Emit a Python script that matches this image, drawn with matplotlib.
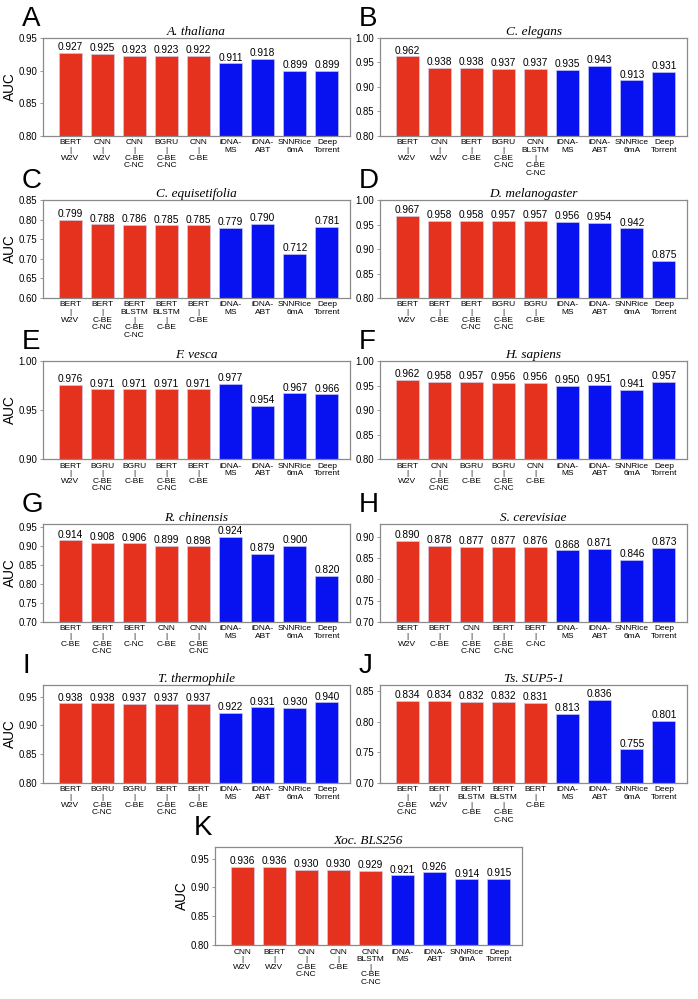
import matplotlib
matplotlib.use("Agg")
import matplotlib.pyplot as plt

plt.rcParams['font.family'] = ['Liberation Sans', 'DejaVu Sans']

# common baselines (last 4 bars)
base_labels = ["iDNA-\nMS", "iDNA-\nABT", "SNNRice\n6mA", "Deep\nTorrent"]

# A. thaliana
a_labels = ["BERT\n|\nW2V", "CNN\n|\nW2V", "CNN\n|\nC-BE\nC-NC", "BGRU\n|\nC-BE\nC-NC", "CNN\n|\nC-BE"]
a_values = [0.927, 0.925, 0.923, 0.923, 0.922, 0.911, 0.918, 0.899, 0.899]
# C. elegans
b_labels = ["BERT\n|\nW2V", "CNN\n|\nW2V", "BERT\n|\nC-BE", "BGRU\n|\nC-BE\nC-NC", "CNN\nBLSTM\n|\nC-BE\nC-NC"]
b_values = [0.962, 0.938, 0.938, 0.937, 0.937, 0.935, 0.943, 0.913, 0.931]
# C. equisetifolia
c_labels = ["BERT\n|\nW2V", "BERT\n|\nC-BE\nC-NC", "BERT\nBLSTM\n|\nC-BE\nC-NC", "BERT\nBLSTM\n|\nC-BE", "BERT\n|\nC-BE"]
c_values = [0.799, 0.788, 0.786, 0.785, 0.785, 0.779, 0.790, 0.712, 0.781]
# D. melanogaster
d_labels = ["BERT\n|\nW2V", "BERT\n|\nC-BE", "BERT\n|\nC-BE\nC-NC", "BGRU\n|\nC-BE\nC-NC", "BGRU\n|\nC-BE"]
d_values = [0.967, 0.958, 0.958, 0.957, 0.957, 0.956, 0.954, 0.942, 0.875]
# F. vesca
e_labels = ["BERT\n|\nW2V", "BGRU\n|\nC-BE\nC-NC", "BGRU\n|\nC-BE", "BERT\n|\nC-BE\nC-NC", "BERT\n|\nC-BE"]
e_values = [0.976, 0.971, 0.971, 0.971, 0.971, 0.977, 0.954, 0.967, 0.966]
# H. sapiens
f_labels = ["BERT\n|\nW2V", "CNN\n|\nC-BE\nC-NC", "BGRU\n|\nC-BE", "BGRU\n|\nC-BE\nC-NC", "CNN\n|\nC-BE"]
f_values = [0.962, 0.958, 0.957, 0.956, 0.956, 0.950, 0.951, 0.941, 0.957]
# R. chinensis
g_labels = ["BERT\n|\nC-BE", "BERT\n|\nC-BE\nC-NC", "BERT\n|\nC-NC", "CNN\n|\nC-BE", "CNN\n|\nC-BE\nC-NC"]
g_values = [0.914, 0.908, 0.906, 0.899, 0.898, 0.924, 0.879, 0.900, 0.820]
# S. cerevisiae
h_labels = ["BERT\n|\nW2V", "BERT\n|\nC-BE", "CNN\n|\nC-BE\nC-NC", "BERT\n|\nC-BE\nC-NC", "BERT\n|\nC-NC"]
h_values = [0.890, 0.878, 0.877, 0.877, 0.876, 0.868, 0.871, 0.846, 0.873]
# T. thermophile
i_labels = ["BERT\n|\nW2V", "BGRU\n|\nC-BE\nC-NC", "BGRU\n|\nC-BE", "BERT\n|\nC-BE\nC-NC", "BERT\n|\nC-BE"]
i_values = [0.938, 0.938, 0.937, 0.937, 0.937, 0.922, 0.931, 0.930, 0.940]
# Ts. SUP5-1
j_labels = ["BERT\n|\nC-BE\nC-NC", "BERT\n|\nW2V", "BERT\nBLSTM\n|\nC-BE", "BERT\nBLSTM\n|\nC-BE\nC-NC", "BERT\n|\nC-BE"]
j_values = [0.834, 0.834, 0.832, 0.832, 0.831, 0.813, 0.836, 0.755, 0.801]
# Xoc. BLS256
k_labels = ["CNN\n|\nW2V", "BERT\n|\nW2V", "CNN\n|\nC-BE\nC-NC", "CNN\n|\nC-BE", "CNN\nBLSTM\n|\nC-BE\nC-NC"]
k_values = [0.936, 0.936, 0.930, 0.930, 0.929, 0.921, 0.926, 0.914, 0.915]

RED = '#E5321F'
BLUE = '#0812F0'
GREY = '#8a8a8a'

fig = plt.figure(figsize=(6.98, 9.99), dpi=100)

W = 307 / 698
H = 98 / 999
LX = 43 / 698
RX = 380 / 698
KX = 215 / 698


def panel(rect, letter, title, labels, values, ylim, yticks, auc=True):
    ax = fig.add_axes(rect)
    x = list(range(len(values)))
    colors = [RED] * 5 + [BLUE] * 4
    ax.bar(x, [v - ylim[0] for v in values], bottom=ylim[0], width=0.72,
           color=colors, edgecolor='#d0d0f0', linewidth=0.4)
    for xi, v in zip(x, values):
        ax.text(xi, v + (ylim[1] - ylim[0]) * 0.008, "%.3f" % v, ha='center', va='bottom', fontsize=7.3)
    ax.set_xlim(-0.85, 8.72)
    ax.set_ylim(*ylim)
    ax.set_yticks(yticks)
    ax.set_yticklabels(["%.2f" % t for t in yticks], fontsize=6.9)
    ax.set_xticks(x)
    ax.set_xticklabels(labels + base_labels, fontsize=6.0, linespacing=1.13, va='top')
    ax.tick_params(axis='x', length=0, pad=2.5)
    ax.tick_params(axis='y', length=2.5, width=0.6, color=GREY, pad=1.5)
    for s in ax.spines.values():
        s.set_color(GREY)
        s.set_linewidth(0.9)
    ax.set_title(title, fontsize=9.5, family='Liberation Serif', style='italic', pad=2)
    if auc:
        ax.set_ylabel("AUC", fontsize=9.8, labelpad=1)
    # panel letter, kept clear of the top tick label
    fig.text(rect[0] - 21 / 698, rect[1] + rect[3] + 12 / 999, letter, fontsize=20, ha='left', va='baseline')
    return ax


row_b = [0.864, 0.7017, 0.5405, 0.3774, 0.2162, 0.054]

panel([LX, row_b[0], W, H], "A", "A. thaliana", a_labels, a_values, (0.80, 0.95), [0.80, 0.85, 0.90, 0.95])
panel([RX, row_b[0], W, H], "B", "C. elegans", b_labels, b_values, (0.80, 1.00), [0.80, 0.85, 0.90, 0.95, 1.00], auc=False)
panel([LX, row_b[1], W, H], "C", "C. equisetifolia", c_labels, c_values, (0.60, 0.85), [0.60, 0.65, 0.70, 0.75, 0.80, 0.85])
panel([RX, row_b[1], W, H], "D", "D. melanogaster", d_labels, d_values, (0.80, 1.00), [0.80, 0.85, 0.90, 0.95, 1.00], auc=False)
panel([LX, row_b[2], W, H], "E", "F. vesca", e_labels, e_values, (0.90, 1.00), [0.90, 0.95, 1.00])
panel([RX, row_b[2], W, H], "F", "H. sapiens", f_labels, f_values, (0.80, 1.00), [0.80, 0.85, 0.90, 0.95, 1.00], auc=False)
panel([LX, row_b[3], W, H], "G", "R. chinensis", g_labels, g_values, (0.70, 0.957), [0.70, 0.75, 0.80, 0.85, 0.90, 0.95])
panel([RX, row_b[3], W, H], "H", "S. cerevisiae", h_labels, h_values, (0.70, 0.93), [0.70, 0.75, 0.80, 0.85, 0.90], auc=False)
panel([LX, row_b[4], W, H], "I", "T. thermophile", i_labels, i_values, (0.80, 0.97), [0.80, 0.85, 0.90, 0.95])
panel([RX, row_b[4], W, H], "J", "Ts. SUP5-1", j_labels, j_values, (0.70, 0.86), [0.70, 0.75, 0.80, 0.85], auc=False)
panel([KX, row_b[5], W, H], "K", "Xoc. BLS256", k_labels, k_values, (0.80, 0.97), [0.80, 0.85, 0.90, 0.95])

fig.savefig("out.png", dpi=100)
